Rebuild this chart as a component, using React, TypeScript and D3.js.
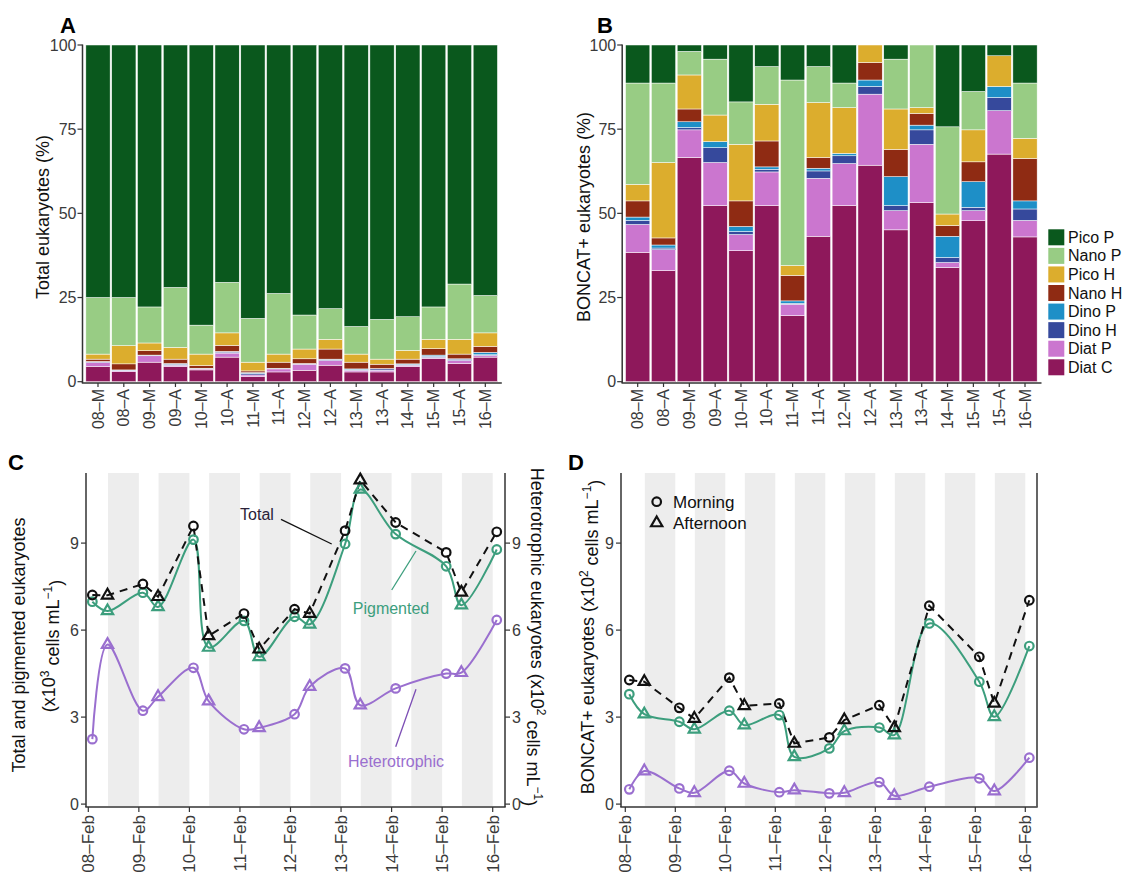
import React from "react";
import * as d3 from "d3";

// ---------- data ----------
const samples = ["08–M","08–A","09–M","09–A","10–M","10–A","11–M","11–A","12–M","12–A","13–M","13–A","14–M","15–M","15–A","16–M"];
const taxa = ["Diat C","Diat P","Dino H","Dino P","Nano H","Pico H","Nano P","Pico P"]; // bottom -> top
const legendOrder = ["Pico P","Nano P","Pico H","Nano H","Dino P","Dino H","Diat P","Diat C"];
const taxonColors: Record<string, string> = {
  "Diat C": "#8e185b", "Diat P": "#cb76cf", "Dino H": "#36499c", "Dino P": "#1e8fc7",
  "Nano H": "#8f2b13", "Pico H": "#dcad2d", "Nano P": "#98cc84", "Pico P": "#0a581d",
};

// Panel A: total eukaryotes (%)
const totDiatC = [4.5,3.0,5.8,4.5,3.5,7.3,1.5,2.9,3.4,4.9,2.9,2.9,4.5,6.9,5.4,7.3];
const totDiatP = [1.2,0.3,1.9,0.4,0.3,1.2,0.5,0.9,1.8,1.4,0.5,0.5,0.4,0.3,0.9,0.5];
const totDinoH = [0.2,0.1,0.1,0.3,0.1,0.3,0.5,0.1,0.1,0.3,0.2,0.4,0.2,0.3,0.4,0.2];
const totDinoP = [0.1,0.1,0.1,0.2,0.1,0.2,0.2,0.1,0.1,0.1,0.2,0.1,0.2,0.4,0.1,0.7];
const totNanoH = [0.7,1.8,1.3,1.3,0.8,1.8,0.5,1.8,1.4,3.0,2.0,1.3,1.4,1.9,1.4,1.8];
const totPicoH = [1.5,5.4,2.3,3.5,3.4,3.7,2.6,2.4,2.9,2.9,2.4,1.5,2.6,2.8,4.4,4.0];
const totNanoP = [16.8,14.3,10.7,17.8,8.6,15.0,13.0,18.0,10.1,9.1,8.2,11.8,10.0,9.6,16.4,11.1];
const totPicoP = [75,75,77.8,72,83.2,70.5,81.2,73.8,80.2,78.3,83.6,81.5,80.7,77.8,71,74.4];

// Panel B: BONCAT+ eukaryotes (%)
const bcDiatC = [38.4,33.0,66.6,52.3,38.9,52.3,19.6,43.2,52.3,64.3,45.1,53.2,33.9,47.8,67.6,43.0];
const bcDiatP = [8.3,6.2,8.2,12.8,4.8,10.0,3.4,17.2,12.5,21.1,5.7,17.3,1.5,3.0,12.9,4.9];
const bcDinoH = [1.2,0.5,0.7,4.4,0.9,0.8,0.3,2.2,2.3,2.3,1.5,4.3,1.5,1.0,3.9,3.4];
const bcDinoP = [1.0,0.9,1.7,1.8,1.5,0.7,0.7,0.8,0.7,1.9,8.6,1.4,6.3,7.6,3.3,2.4];
const bcNanoH = [4.8,2.1,3.8,0,7.6,7.7,7.6,3.2,0,5.2,8.1,3.5,3.2,5.9,0,12.6];
const bcPicoH = [4.9,22.4,10.1,7.9,16.8,10.9,2.9,16.3,13.6,5.2,12.0,1.7,3.4,9.5,9.1,6.0];
const bcNanoP = [30.1,23.6,7.0,16.6,12.6,11.2,55.1,10.7,7.3,0,14.8,18.6,25.9,11.4,0,16.4];
const bcPicoP = [11.3,11.3,1.9,4.2,16.9,6.4,10.4,6.4,11.3,0,4.2,0,24.3,13.8,3.2,11.3];

// Panel C: abundances
const cTotal = [7.21,7.2,7.59,7.15,9.59,5.8,6.57,5.34,6.72,6.57,9.43,11.17,9.71,8.68,7.3,9.39];
const cPig = [6.98,6.66,7.29,6.8,9.12,5.4,6.32,5.08,6.46,6.2,8.97,10.85,9.31,8.2,6.86,8.78];
const cHet = [2.24,5.5,3.22,3.7,4.7,3.55,2.58,2.63,3.1,4.05,4.68,3.41,3.99,4.5,4.53,6.35];

// Panel D: BONCAT+ abundances
const dTotal = [4.28,4.22,3.32,2.95,4.36,3.39,3.47,2.09,2.3,2.9,3.41,2.63,6.84,5.08,3.47,7.03];
const dPig = [3.79,3.1,2.84,2.58,3.22,2.72,3.07,1.63,1.92,2.52,2.64,2.38,6.23,4.22,3.01,5.45];
const dHet = [0.51,1.14,0.54,0.39,1.15,0.71,0.41,0.48,0.37,0.39,0.76,0.29,0.6,0.89,0.45,1.6];

const pctTicks = [0, 25, 50, 75, 100];
const countTicks = [0, 3, 6, 9];
const dateLabels = ["08–Feb","09–Feb","10–Feb","11–Feb","12–Feb","13–Feb","14–Feb","15–Feb","16–Feb"];

// ---------- helpers ----------
const FONT = "'Liberation Sans', Arial, Helvetica, sans-serif";
const AXIS = "#333333";
const TICKTXT = "#3a3a3a";
const GREEN = "#3c9e7d";
const PURPLE = "#9a6fcf";

const sampleDay = samples.map((s) => {
  const day = parseInt(s.slice(0, 2), 10) - 8;
  return day + (s.endsWith("M") ? 0.08 : 0.38);
});

function buildRows(series: number[][]) {
  return samples.map((s, i) => {
    const row: any = { sample: s };
    taxa.forEach((t, k) => (row[t] = series[k][i]));
    return row;
  });
}

const totRows = buildRows([totDiatC, totDiatP, totDinoH, totDinoP, totNanoH, totPicoH, totNanoP, totPicoP]);
const bcRows = buildRows([bcDiatC, bcDiatP, bcDinoH, bcDinoP, bcNanoH, bcPicoH, bcNanoP, bcPicoP]);

function BarPanel(props: { rows: any[]; left: number; right: number; label: string; title: string; titleX: number; letterX: number }) {
  const { rows, left, right, label, title, titleX, letterX } = props;
  const x = d3.scalePoint<string>().domain(samples).range([left, right]).padding(0.6);
  const y = d3.scaleLinear().domain([0, 100]).range([381.7, 45]);
  const step = x.step();
  const bw = step * 0.94;
  const stacked = d3.stack().keys(taxa)(rows as any);
  const axisY = 383;
  return (
    <g>
      <text x={letterX} y={33} fontSize={22} fontWeight="bold" fontFamily={FONT} fill="#000">{label}</text>
      {stacked.map((layer) => (
        <g key={layer.key} fill={taxonColors[layer.key]}>
          {layer.map((d, i) => {
            const h = y(d[0]) - y(d[1]);
            if (h <= 0) return null;
            return (
              <rect key={i} x={(x(samples[i]) as number) - bw / 2} y={y(d[1])} width={bw} height={h}
                stroke="#ffffff" strokeWidth={0.5} />
            );
          })}
        </g>
      ))}
      <line x1={left} x2={left} y1={44.5} y2={axisY} stroke={AXIS} strokeWidth={1.5} />
      <line x1={left - 0.7} x2={right + 1} y1={axisY} y2={axisY} stroke={AXIS} strokeWidth={1.5} />
      {pctTicks.map((t) => (
        <g key={t}>
          <line x1={left - 5} x2={left} y1={y(t)} y2={y(t)} stroke={AXIS} strokeWidth={1.2} />
          <text x={left - 6} y={y(t)} dy="0.35em" textAnchor="end" fontSize={16} fontFamily={FONT} fill={TICKTXT}>{t}</text>
        </g>
      ))}
      {samples.map((s) => (
        <g key={s}>
          <line x1={x(s)} x2={x(s)} y1={axisY} y2={axisY + 4} stroke={AXIS} strokeWidth={1.2} />
          <text transform={`translate(${x(s)},${axisY + 6}) rotate(-90)`} dy="0.35em" textAnchor="end"
            fontSize={16} fontFamily={FONT} fill={TICKTXT}>{s}</text>
        </g>
      ))}
      <text transform={`translate(${titleX},217) rotate(-90)`} dy="0.35em" textAnchor="middle" fontSize={18}
        fontFamily={FONT} fill="#111">{title}</text>
    </g>
  );
}

function Markers(props: { xs: number[]; ys: number[]; color: string }) {
  const tri = d3.symbol(d3.symbolTriangle, 55)() as string;
  return (
    <g fill="none" stroke={props.color} strokeWidth={2.2}>
      {props.xs.map((xx, i) =>
        samples[i].endsWith("M") ? (
          <circle key={i} cx={xx} cy={props.ys[i]} r={4.3} />
        ) : (
          <path key={i} d={tri} transform={`translate(${xx},${props.ys[i]})`} />
        )
      )}
    </g>
  );
}

function LinePanel(props: {
  left: number; right: number; day0: number; day8: number;
  total: number[]; pig: number[]; het: number[]; rightAxis: boolean;
}) {
  const { left, right, day0, day8, total, pig, het, rightAxis } = props;
  const top = 473;
  const bottom = 807;
  const x = d3.scaleLinear().domain([0, 8]).range([day0, day8]);
  const y = d3.scaleLinear().domain([-0.1, 11.4]).range([bottom, 473.5]);
  const xs = sampleDay.map((d) => x(d));
  const smooth = d3.line<number>().x((_, i) => xs[i]).y((v) => y(v)).curve(d3.curveCatmullRom.alpha(0.5));
  const straight = d3.line<number>().x((_, i) => xs[i]).y((v) => y(v));
  const bands = d3.range(8);
  return (
    <g>
      {bands.map((d) => (
        <rect key={d} x={x(d + 0.39)} y={top} width={x(d + 1) - x(d + 0.39)} height={bottom - 1 - top} fill="#ededed" />
      ))}
      <path d={smooth(het) as string} fill="none" stroke={PURPLE} strokeWidth={2} />
      <path d={smooth(pig) as string} fill="none" stroke={GREEN} strokeWidth={2} />
      <path d={straight(total) as string} fill="none" stroke="#111" strokeWidth={2} strokeDasharray="8,6" />
      <Markers xs={xs} ys={het.map((v) => y(v))} color={PURPLE} />
      <Markers xs={xs} ys={pig.map((v) => y(v))} color={GREEN} />
      <Markers xs={xs} ys={total.map((v) => y(v))} color="#111" />
      <line x1={left} x2={left} y1={top} y2={bottom} stroke={AXIS} strokeWidth={1.5} />
      <line x1={left - 0.7} x2={right + 0.7} y1={bottom} y2={bottom} stroke={AXIS} strokeWidth={1.5} />
      <line x1={right} x2={right} y1={top} y2={bottom} stroke={rightAxis ? AXIS : "#555"} strokeWidth={rightAxis ? 1.5 : 1.8} />
      {countTicks.map((t) => (
        <g key={t}>
          <line x1={left - 5} x2={left} y1={y(t)} y2={y(t)} stroke={AXIS} strokeWidth={1.2} />
          <text x={left - 7} y={y(t)} dy="0.35em" textAnchor="end" fontSize={16} fontFamily={FONT} fill={TICKTXT}>{t}</text>
          {rightAxis && (
            <>
              <line x1={right} x2={right + 5} y1={y(t)} y2={y(t)} stroke={AXIS} strokeWidth={1.2} />
              <text x={right + 7} y={y(t)} dy="0.35em" textAnchor="start" fontSize={16} fontFamily={FONT} fill={TICKTXT}>{t}</text>
            </>
          )}
        </g>
      ))}
      {dateLabels.map((lab, i) => (
        <g key={lab}>
          <line x1={x(i)} x2={x(i)} y1={bottom} y2={bottom + 5} stroke={AXIS} strokeWidth={1.2} />
          <text transform={`translate(${x(i)},${bottom + 8}) rotate(-90)`} dy="0.35em" textAnchor="end"
            fontSize={17} fontFamily={FONT} fill={TICKTXT}>{lab}</text>
        </g>
      ))}
    </g>
  );
}

export default function App() {
  const tri = d3.symbol(d3.symbolTriangle, 55)() as string;
  return (
    <svg width={1125} height={878} viewBox="0 0 1125 878"
      style={{ position: "absolute", left: 0, top: 0, background: "#fff" }}>
      <rect x={0} y={0} width={1125} height={878} fill="#fff" />
      <BarPanel rows={totRows} left={82.5} right={500.8} label="A" title="Total eukaryotes (%)" titleX={42.7} letterX={60} />
      <BarPanel rows={bcRows} left={622.2} right={1040.5} label="B" title="BONCAT+ eukaryotes (%)" titleX={584} letterX={597} />

      {/* legend */}
      {legendOrder.map((t, i) => (
        <g key={t}>
          <rect x={1048.3} y={229.3 + i * 18.57} width={16} height={16} fill={taxonColors[t]} />
          <text x={1068} y={237.3 + i * 18.57} dy="0.35em" fontSize={16} fontFamily={FONT} fill="#111">{t}</text>
        </g>
      ))}

      {/* panel C */}
      <text x={8} y={470} fontSize={22} fontWeight="bold" fontFamily={FONT} fill="#000">C</text>
      <LinePanel left={86} right={505} day0={88.3} day8={492.7} total={cTotal} pig={cPig} het={cHet} rightAxis={true} />
      <text transform="translate(19,645) rotate(-90)" dy="0.35em" textAnchor="middle" fontSize={18} fontFamily={FONT} fill="#111">
        Total and pigmented eukaryotes
      </text>
      <text transform="translate(49,646) rotate(-90)" dy="0.35em" textAnchor="middle" fontSize={18} fontFamily={FONT} fill="#111">
        (x10<tspan fontSize={12} dy="-0.55em">3</tspan><tspan dy="0.55em"> cells mL</tspan>
        <tspan fontSize={12} dy="-0.55em">−1</tspan><tspan dy="0.55em">)</tspan>
      </text>
      <text transform="translate(537,637) rotate(90)" dy="0.35em" textAnchor="middle" fontSize={18} fontFamily={FONT} fill="#111">
        Heterotrophic eukaryotes (x10<tspan fontSize={12} dy="-0.55em">2</tspan><tspan dy="0.55em"> cells mL</tspan>
        <tspan fontSize={12} dy="-0.55em">−1</tspan><tspan dy="0.55em">)</tspan>
      </text>
      <text x={257} y={514} dy="0.35em" textAnchor="middle" fontSize={16} fontFamily={FONT} fill="#2a2238">Total</text>
      <line x1={281} y1={519.3} x2={331.7} y2={544} stroke="#111" strokeWidth={1.3} />
      <text x={391} y={608.3} dy="0.35em" textAnchor="middle" fontSize={16} fontFamily={FONT} fill={GREEN}>Pigmented</text>
      <line x1={391.7} y1={590} x2={416} y2={551} stroke={GREEN} strokeWidth={1.3} />
      <text x={396} y={761.7} dy="0.35em" textAnchor="middle" fontSize={16} fontFamily={FONT} fill={PURPLE}>Heterotrophic</text>
      <line x1={395.7} y1={746.7} x2={416} y2={689.3} stroke="#7d4fb5" strokeWidth={1.3} />

      {/* panel D */}
      <text x={568} y={470} fontSize={22} fontWeight="bold" fontFamily={FONT} fill="#000">D</text>
      <LinePanel left={621} right={1037} day0={625.3} day8={1025.3} total={dTotal} pig={dPig} het={dHet} rightAxis={false} />
      <text transform="translate(588,637) rotate(-90)" dy="0.35em" textAnchor="middle" fontSize={18} fontFamily={FONT} fill="#111">
        BONCAT+ eukaryotes (x10<tspan fontSize={12} dy="-0.55em">2</tspan><tspan dy="0.55em"> cells mL</tspan>
        <tspan fontSize={12} dy="-0.55em">−1</tspan><tspan dy="0.55em">)</tspan>
      </text>
      <circle cx={656.7} cy={501.7} r={4.3} fill="none" stroke="#111" strokeWidth={2.2} />
      <text x={673} y={501.7} dy="0.35em" fontSize={17} fontFamily={FONT} fill="#111">Morning</text>
      <path d={tri} transform="translate(656.7,523)" fill="none" stroke="#111" strokeWidth={2.2} />
      <text x={673} y={523} dy="0.35em" fontSize={17} fontFamily={FONT} fill="#111">Afternoon</text>
    </svg>
  );
}
